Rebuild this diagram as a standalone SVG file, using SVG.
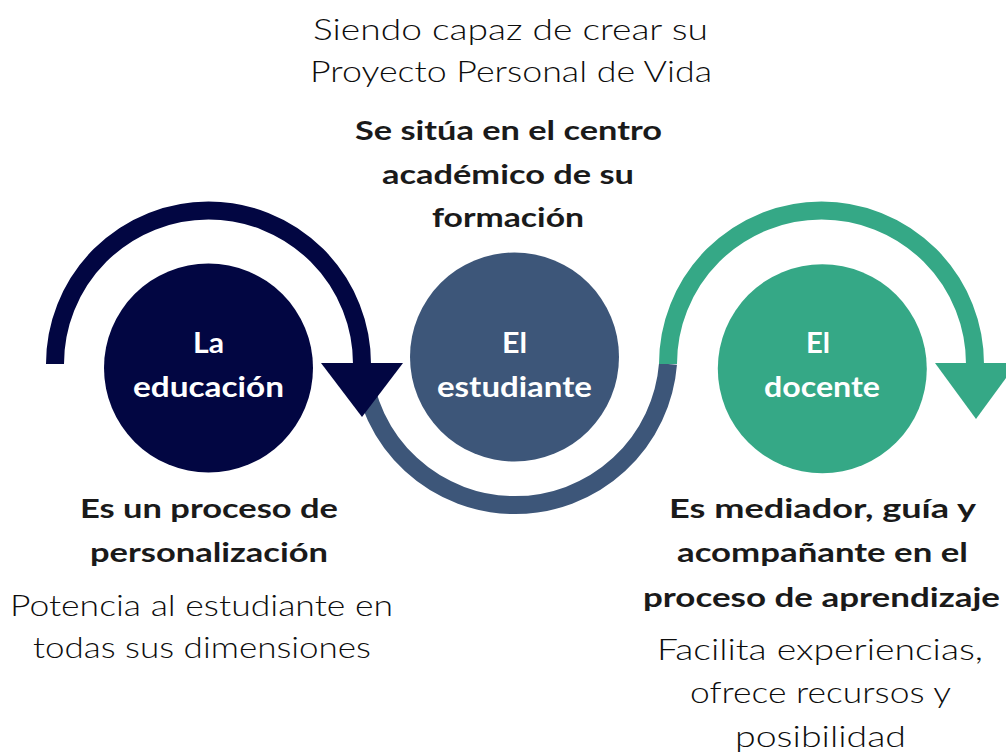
<svg xmlns="http://www.w3.org/2000/svg" width="1006" height="754" viewBox="0 0 1006 754">
  <style>
    .arc { fill: none; stroke-width: 18; }
    .lbl { font-family: Lato, "Noto Sans", "Liberation Sans", sans-serif; font-weight: 700; font-size: 29px; fill: #ffffff; text-anchor: middle; }
    .bold { font-family: Lato, "Noto Sans", "Liberation Sans", sans-serif; font-weight: 700; font-size: 27px; fill: #1a1a1a; text-anchor: middle; }
    .light { font-family: Lato, "Noto Sans", "Liberation Sans", sans-serif; font-weight: 300; font-size: 29px; fill: #0d0d0d; text-anchor: middle; }
  </style>
  <rect width="1006" height="754" fill="#ffffff"/>
  <g id="connectors">
    <path class="arc" stroke="#3d5679" d="M 362 364 A 153.5 153.5 0 0 0 668 364"/>
    <path class="arc" stroke="#020642" d="M 55 364 A 153.5 153.5 0 0 1 362 364"/>
    <polygon fill="#020642" points="321,363 403,363 362,417"/>
    <path class="arc" stroke="#35a886" d="M 668 364 A 153.5 153.5 0 0 1 975 364"/>
    <polygon fill="#35a886" points="935,363 1017,363 976,419"/>
  </g>
  <g id="node-educacion">
    <circle cx="208.5" cy="368" r="104.5" fill="#020642"/>
    <text class="lbl" x="208.5" y="353" textLength="31" lengthAdjust="spacingAndGlyphs">La</text>
    <text class="lbl" x="208.5" y="397" textLength="151" lengthAdjust="spacingAndGlyphs">educación</text>
  </g>
  <g id="node-estudiante">
    <circle cx="514.5" cy="357" r="104.5" fill="#3d5679"/>
    <text class="lbl" x="514.5" y="353" textLength="25" lengthAdjust="spacingAndGlyphs">El</text>
    <text class="lbl" x="514.5" y="397" textLength="155" lengthAdjust="spacingAndGlyphs">estudiante</text>
  </g>
  <g id="node-docente">
    <circle cx="822.3" cy="368.7" r="104.5" fill="#35a886"/>
    <text class="lbl" x="818" y="353" textLength="24" lengthAdjust="spacingAndGlyphs">El</text>
    <text class="lbl" x="822" y="397" textLength="116" lengthAdjust="spacingAndGlyphs">docente</text>
  </g>
  <g id="text-top">
    <text class="light" x="510.5" y="40" textLength="395" lengthAdjust="spacingAndGlyphs">Siendo capaz de crear su</text>
    <text class="light" x="511" y="82" textLength="402" lengthAdjust="spacingAndGlyphs">Proyecto Personal de Vida</text>
    <text class="bold" x="508.5" y="140" textLength="307" lengthAdjust="spacingAndGlyphs">Se sitúa en el centro</text>
    <text class="bold" x="508" y="184" textLength="252" lengthAdjust="spacingAndGlyphs">académico de su</text>
    <text class="bold" x="508" y="227" textLength="152" lengthAdjust="spacingAndGlyphs">formación</text>
  </g>
  <g id="text-left">
    <text class="bold" x="209" y="518" textLength="258" lengthAdjust="spacingAndGlyphs">Es un proceso de</text>
    <text class="bold" x="209" y="562" textLength="238" lengthAdjust="spacingAndGlyphs">personalización</text>
    <text class="light" x="201.5" y="616" textLength="383" lengthAdjust="spacingAndGlyphs">Potencia al estudiante en</text>
    <text class="light" x="202" y="658" textLength="338" lengthAdjust="spacingAndGlyphs">todas sus dimensiones</text>
  </g>
  <g id="text-right">
    <text class="bold" x="822.5" y="518" textLength="307" lengthAdjust="spacingAndGlyphs">Es mediador, guía y</text>
    <text class="bold" x="822.5" y="562" textLength="291" lengthAdjust="spacingAndGlyphs">acompañante en el</text>
    <text class="bold" x="821.5" y="607" textLength="357" lengthAdjust="spacingAndGlyphs">proceso de aprendizaje</text>
    <text class="light" x="820" y="660" textLength="326" lengthAdjust="spacingAndGlyphs">Facilita experiencias,</text>
    <text class="light" x="820.5" y="703" textLength="261" lengthAdjust="spacingAndGlyphs">ofrece recursos y</text>
    <text class="light" x="820.5" y="747" textLength="171" lengthAdjust="spacingAndGlyphs">posibilidad</text>
  </g>
</svg>
